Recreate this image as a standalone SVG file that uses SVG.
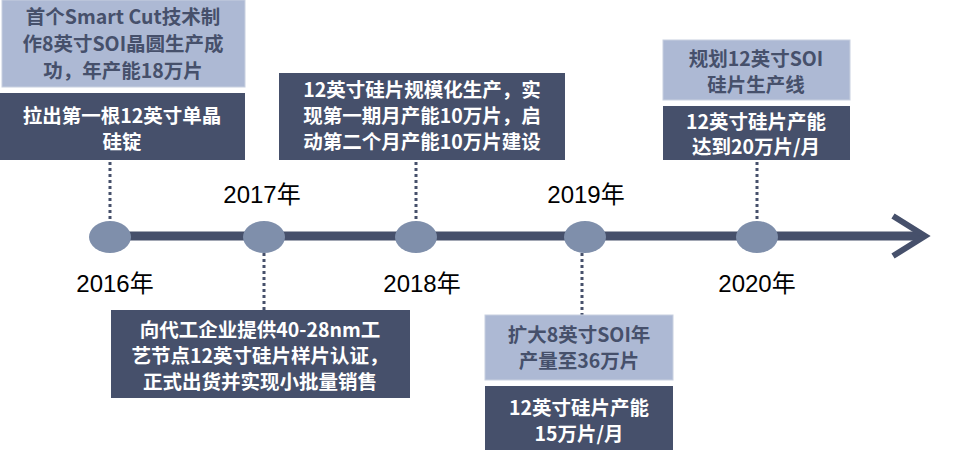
<svg xmlns="http://www.w3.org/2000/svg" width="973" height="457" viewBox="0 0 973 457">
<style>
.d{fill:#46506b}.l{fill:#adb9d4;stroke:#c8d0e0}
.t{font-family:"Noto Sans CJK SC","Liberation Sans",sans-serif;font-weight:bold;font-size:19.5px;text-anchor:middle}
.dt{fill:#fff}.lt{fill:#46506b}
.y{font-family:"Liberation Sans","Noto Sans CJK SC",sans-serif;font-size:24px;text-anchor:middle;fill:#000}
.c{fill:#7f8fab}
.dot{stroke:#46506b;stroke-width:3;stroke-dasharray:3 3}
</style>
<g id="connectors">
<line x1="100" y1="236" x2="920" y2="236" stroke="#46506b" stroke-width="9"/>
<polyline points="893,216 925,236 893,256" fill="none" stroke="#46506b" stroke-width="6"/>
<line class="dot" x1="110" y1="162" x2="110" y2="220"/>
<line class="dot" x1="264" y1="253" x2="264" y2="310"/>
<line class="dot" x1="416" y1="162" x2="416" y2="220"/>
<line class="dot" x1="582" y1="253" x2="582" y2="315"/>
<line class="dot" x1="757" y1="162" x2="757" y2="220"/>
</g>
<g id="dots">
<ellipse class="c" cx="110" cy="237" rx="21" ry="16"/>
<ellipse class="c" cx="264" cy="237" rx="21" ry="16"/>
<ellipse class="c" cx="416" cy="237" rx="21" ry="16"/>
<ellipse class="c" cx="585" cy="237" rx="21" ry="16"/>
<ellipse class="c" cx="757" cy="237" rx="21" ry="16"/>
</g>
<g id="years">
<text class="y" x="262" y="203">2017年</text>
<text class="y" x="115" y="292">2016年</text>
<text class="y" x="422" y="292">2018年</text>
<text class="y" x="586" y="203">2019年</text>
<text class="y" x="757" y="292">2020年</text>
</g>
<g id="nA"><rect class="l" x="2" y="0" width="243" height="87"/>
<text class="t lt" x="123" y="24">首个Smart Cut技术制</text><text class="t lt" x="123" y="51">作8英寸SOI晶圆生产成</text><text class="t lt" x="123" y="78">功，年产能18万片</text></g>
<g id="nB"><rect class="d" x="0" y="93" width="245" height="67"/>
<text class="t dt" x="122" y="123">拉出第一根12英寸单晶</text><text class="t dt" x="122" y="149">硅锭</text></g>
<g id="nC"><rect class="d" x="279" y="73" width="286" height="87"/>
<text class="t dt" x="422" y="97">12英寸硅片规模化生产，实</text><text class="t dt" x="422" y="123">现第一期月产能10万片，启</text><text class="t dt" x="422" y="149">动第二个月产能10万片建设</text></g>
<g id="nD"><rect class="l" x="663" y="40" width="187" height="60"/>
<text class="t lt" x="756" y="66">规划12英寸SOI</text><text class="t lt" x="756" y="92">硅片生产线</text></g>
<g id="nE"><rect class="d" x="663" y="106" width="187" height="54"/>
<text class="t dt" x="756" y="129">12英寸硅片产能</text><text class="t dt" x="756" y="154">达到20万片/月</text></g>
<g id="nF"><rect class="d" x="111" y="310" width="299" height="88"/>
<text class="t dt" x="260" y="337">向代工企业提供40-28nm工</text><text class="t dt" x="260" y="363">艺节点12英寸硅片样片认证，</text><text class="t dt" x="260" y="389">正式出货并实现小批量销售</text></g>
<g id="nG"><rect class="l" x="485" y="315" width="188" height="65"/>
<text class="t lt" x="579" y="342">扩大8英寸SOI年</text><text class="t lt" x="579" y="368">产量至36万片</text></g>
<g id="nH"><rect class="d" x="485" y="386" width="188" height="64"/>
<text class="t dt" x="579" y="415">12英寸硅片产能</text><text class="t dt" x="579" y="441">15万片/月</text></g>
</svg>
